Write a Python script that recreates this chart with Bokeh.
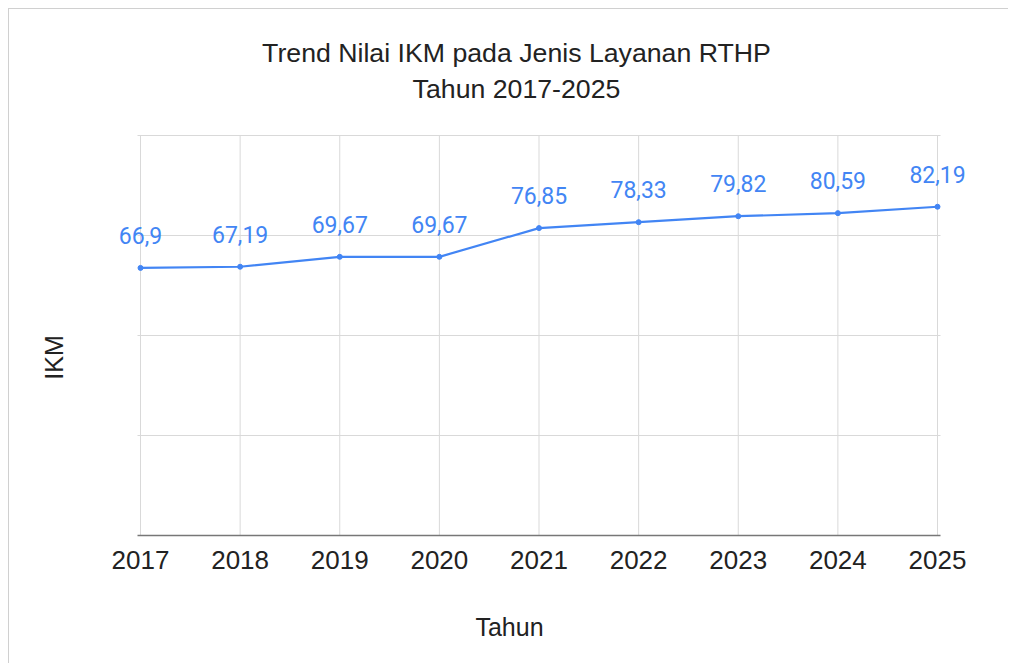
import math
from bokeh.plotting import figure
from bokeh.models import Range1d, FixedTicker, LabelSet, Label, ColumnDataSource
from bokeh.core.properties import value
from bokeh.embed import file_html
from bokeh.resources import INLINE

years = [2017, 2018, 2019, 2020, 2021, 2022, 2023, 2024, 2025]
ikm = [66.9, 67.19, 69.67, 69.67, 76.85, 78.33, 79.82, 80.59, 82.19]
labels = ["66,9", "67,19", "69,67", "69,67", "76,85", "78,33", "79,82", "80,59", "82,19"]
title_lines = ["Trend Nilai IKM pada Jenis Layanan RTHP", "Tahun 2017-2025"]
y_ticks = [0, 25, 50, 75, 100]

BLUE = "#4285F4"
GRID = "#d9d9d9"
TXT = "#222222"

p = figure(width=1000, height=655, output_backend="svg", toolbar_location=None,
           x_range=Range1d(2015.685, 2025.7227), y_range=Range1d(-0.5, 131.5),
           min_border_left=0, min_border_right=0, min_border_top=0, min_border_bottom=127)
p.styles = {"margin-left": "8px", "margin-top": "8px",
            "border-left": "1px solid #d0d0d0", "border-top": "1px solid #d0d0d0",
            "border-right": "none", "border-bottom": "none"}
p.outline_line_color = None
p.xgrid.visible = False
p.ygrid.visible = False
p.yaxis.visible = False

# grid drawn only over the data extent
px_per_year = 99.625
ext = 3.0 / px_per_year
p.segment(x0=years, y0=[y_ticks[0]] * len(years), x1=years, y1=[y_ticks[-1]] * len(years),
          line_color=GRID, line_width=1)
p.segment(x0=[years[0] - ext] * (len(y_ticks) - 1), y0=y_ticks[1:],
          x1=[years[-1] + ext] * (len(y_ticks) - 1), y1=y_ticks[1:],
          line_color=GRID, line_width=1)
p.segment(x0=[years[0] - ext], y0=[y_ticks[0]], x1=[years[-1] + ext], y1=[y_ticks[0]],
          line_color="#777777", line_width=1.6)

p.xaxis.ticker = FixedTicker(ticks=years)
p.xaxis.axis_line_color = None
p.xaxis.major_tick_line_color = None
p.xaxis.minor_tick_line_color = None
p.xaxis.major_label_text_font = "Liberation Sans"
p.xaxis.major_label_text_font_size = "26px"
p.xaxis.major_label_text_color = TXT
p.xaxis.major_label_standoff = 7
p.xaxis.axis_label = "Tahun"
p.xaxis.axis_label_text_font = "Liberation Sans"
p.xaxis.axis_label_text_font_size = "25px"
p.xaxis.axis_label_text_font_style = "normal"
p.xaxis.axis_label_text_color = TXT
p.xaxis.axis_label_standoff = 41

src = ColumnDataSource(dict(x=years, y=ikm, t=labels))
p.line("x", "y", source=src, line_color=BLUE, line_width=2.2)
p.scatter("x", "y", source=src, size=5, color=BLUE)
p.add_layout(LabelSet(x="x", y="y", text="t", source=src, y_offset=24,
                      text_align="center", text_baseline="alphabetic",
                      text_font=value("Roboto"), text_font_size=value("23px"),
                      text_color=BLUE))

for ty, line in zip([120.75, 111.75], title_lines):
    p.add_layout(Label(x=2020.774, y=ty, text=line, text_align="center",
                       text_baseline="alphabetic", text_font="Liberation Sans",
                       text_font_size="26.7px", text_color=TXT))

p.add_layout(Label(x=2016.127, y=44.5, text="IKM", angle=math.pi / 2,
                   text_align="center", text_baseline="middle",
                   text_font="Liberation Sans", text_font_size="25px", text_color=TXT))

open("out.html", "w").write(file_html(p, INLINE))
